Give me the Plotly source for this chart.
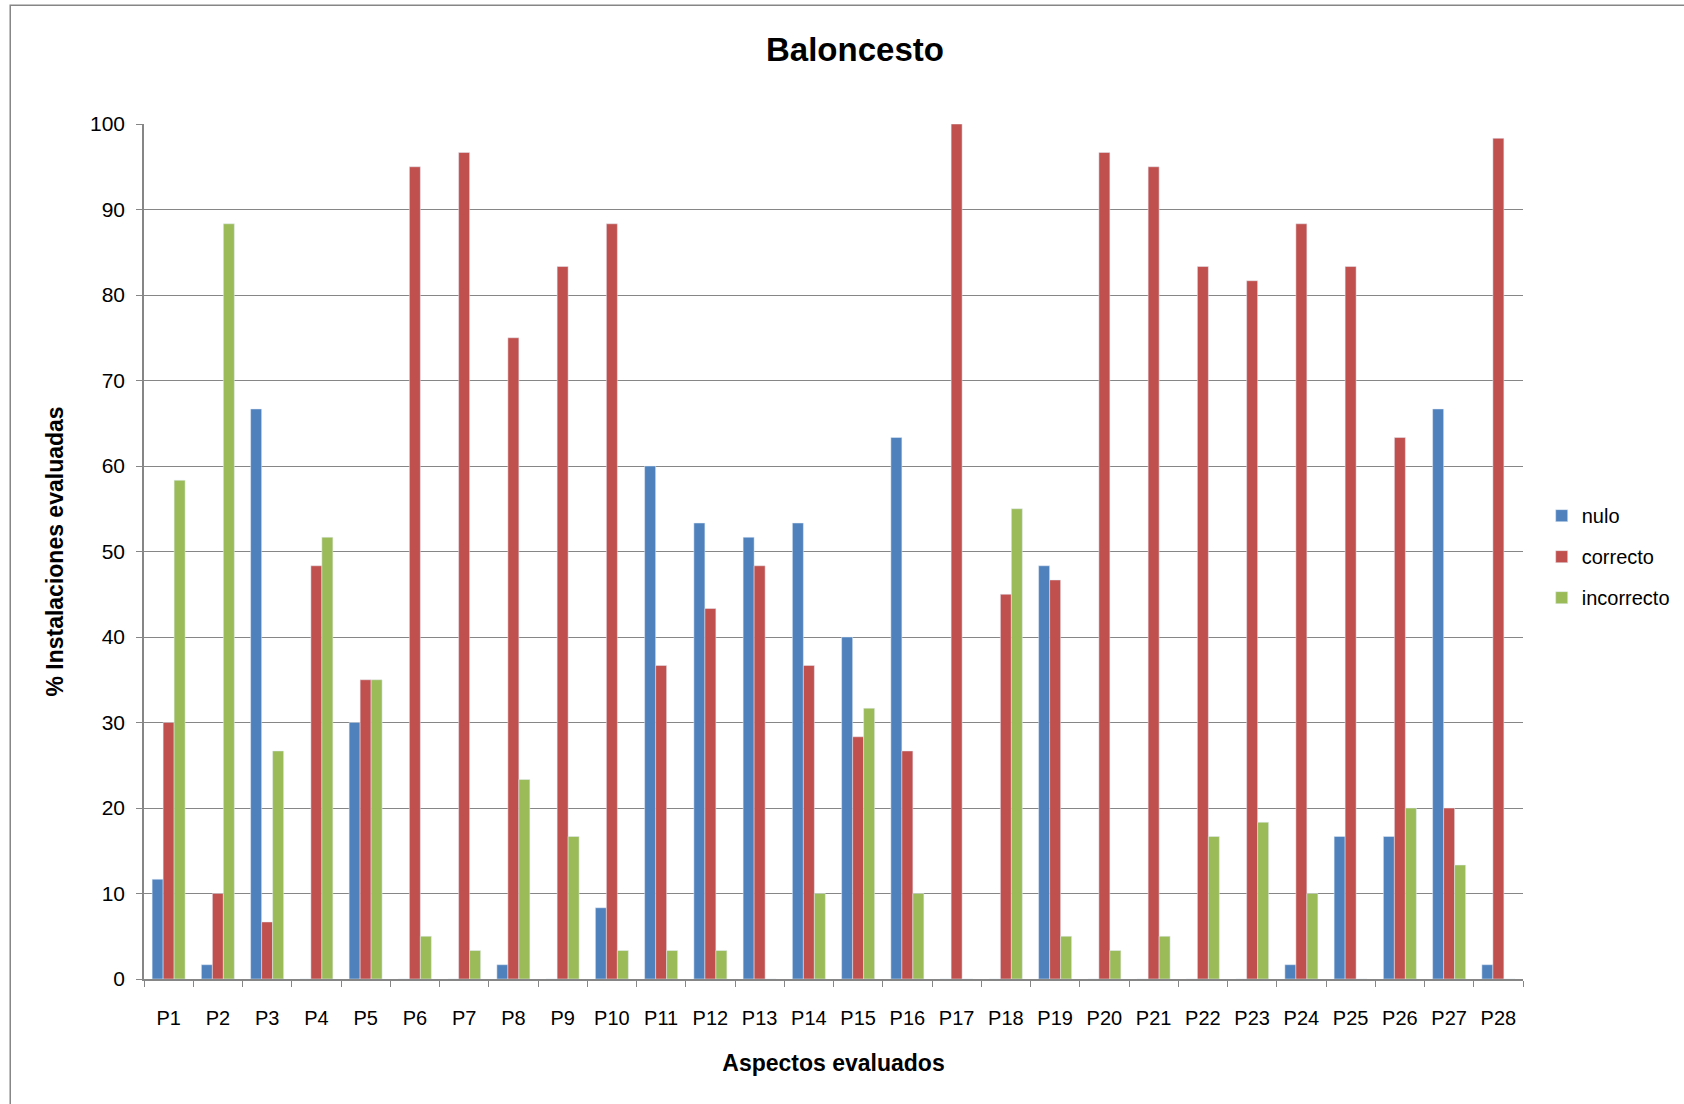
import plotly.graph_objects as go

aspectos = ["P" + str(i) for i in range(1, 29)]

nulo = [11.67, 1.67, 66.67, 0, 30, 0, 0, 1.67, 0, 8.33,
        60, 53.33, 51.67, 53.33, 40, 63.33, 0, 0, 48.33, 0,
        0, 0, 0, 1.67, 16.67, 16.67, 66.67, 1.67]
correcto = [30, 10, 6.67, 48.33, 35, 95, 96.67, 75, 83.33, 88.33,
            36.67, 43.33, 48.33, 36.67, 28.33, 26.67, 100, 45, 46.67, 96.67,
            95, 83.33, 81.67, 88.33, 83.33, 63.33, 20, 98.33]
incorrecto = [58.33, 88.33, 26.67, 51.67, 35, 5, 3.33, 23.33, 16.67, 3.33,
              3.33, 3.33, 0, 10, 31.67, 10, 0, 55, 5, 3.33,
              5, 16.67, 18.33, 10, 0, 20, 13.33, 0]

font = "Liberation Sans"
grey = "#868686"

fig = go.Figure()
fig.add_trace(go.Bar(x=aspectos, y=nulo, name="nulo", marker_color="#4F81BD", legendgroup="a"))
fig.add_trace(go.Bar(x=aspectos, y=correcto, name="correcto", marker_color="#C0504D", legendgroup="b"))
fig.add_trace(go.Bar(x=aspectos, y=incorrecto, name="incorrecto", marker_color="#9BBB59", legendgroup="c"))

fig.update_layout(
    width=1684, height=1104,
    margin=dict(l=144, r=161, t=124, b=125),
    paper_bgcolor="white", plot_bgcolor="white",
    font=dict(family=font, color="black"),
    barmode="group", bargap=0.33, bargroupgap=0,
    title=dict(text="<b>Baloncesto</b>", x=0.5077, xanchor="center", y=0.955, yanchor="middle",
               font=dict(size=33, family=font)),
    legend=dict(xref="container", x=0.9155, xanchor="left", y=0.494, yanchor="middle",
                font=dict(size=20), traceorder="grouped", tracegroupgap=12,
                itemwidth=30),
    shapes=[dict(type="rect", xref="paper", yref="paper",
                 x0=-0.097, x1=1.3, y0=-0.3, y1=1.139,
                 line=dict(color=grey, width=1.5), fillcolor="rgba(0,0,0,0)")],
)

fig.update_yaxes(
    range=[0, 100], dtick=10, showgrid=True, gridcolor=grey, gridwidth=1,
    showline=True, linecolor=grey, linewidth=1.5,
    ticks="outside", ticklen=6, tickcolor=grey, ticklabelstandoff=7,
    tickfont=dict(size=21), zeroline=False,
    title=dict(text="<b>% Instalaciones evaluadas</b>", font=dict(size=23), standoff=20),
)
fig.update_xaxes(
    showline=True, linecolor=grey, linewidth=1.5,
    ticks="outside", tickson="boundaries", ticklen=6, tickcolor=grey, ticklabelstandoff=20,
    tickfont=dict(size=20),
    title=dict(text="<b>Aspectos evaluados</b>", font=dict(size=23), standoff=27),
)

fig.write_html("out.html", config={"displayModeBar": False},
               post_script="document.body.style.margin='0';")
